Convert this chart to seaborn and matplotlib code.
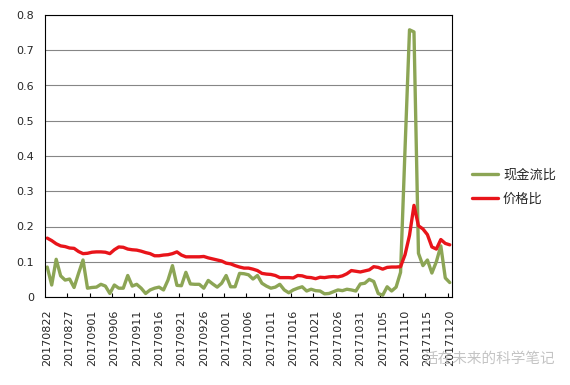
import seaborn as sns
import numpy as np
import matplotlib.pyplot as plt
import matplotlib.ticker as mticker
import pandas as pd

# 数据：2017-08-22 ~ 2017-11-20，每日一个点
start_date = '2017-08-22'

cash_flow_ratio = [
    0.085, 0.034, 0.107, 0.060, 0.048, 0.051, 0.027, 0.067, 0.105, 0.025,
    0.027, 0.028, 0.036, 0.031, 0.010, 0.034, 0.025, 0.025, 0.061, 0.031,
    0.036, 0.025, 0.010, 0.020, 0.025, 0.028, 0.020, 0.048, 0.089, 0.033,
    0.032, 0.070, 0.037, 0.036, 0.036, 0.025, 0.047, 0.037, 0.028, 0.039,
    0.061, 0.029, 0.029, 0.067, 0.066, 0.063, 0.051, 0.061, 0.039, 0.031,
    0.025, 0.028, 0.036, 0.020, 0.012, 0.020, 0.025, 0.029, 0.017, 0.022,
    0.018, 0.017, 0.009, 0.010, 0.015, 0.020, 0.018, 0.022, 0.020, 0.017,
    0.037, 0.039, 0.050, 0.044, 0.010, 0.005, 0.029, 0.017, 0.028, 0.070,
    0.420, 0.758, 0.752, 0.124, 0.089, 0.105, 0.068, 0.100, 0.145, 0.054,
    0.041,
]

price_ratio = [
    0.167, 0.160, 0.151, 0.145, 0.143, 0.139, 0.138, 0.129, 0.123, 0.124,
    0.127, 0.128, 0.128, 0.127, 0.123, 0.134, 0.142, 0.141, 0.136, 0.134,
    0.133, 0.130, 0.126, 0.123, 0.117, 0.117, 0.119, 0.120, 0.123, 0.128,
    0.119, 0.114, 0.114, 0.114, 0.114, 0.115, 0.111, 0.108, 0.105, 0.102,
    0.096, 0.094, 0.089, 0.085, 0.082, 0.082, 0.079, 0.075, 0.067, 0.065,
    0.064, 0.061, 0.055, 0.055, 0.055, 0.054, 0.061, 0.060, 0.056, 0.055,
    0.052, 0.056, 0.055, 0.057, 0.058, 0.057, 0.060, 0.066, 0.075, 0.073,
    0.071, 0.074, 0.077, 0.086, 0.084, 0.079, 0.084, 0.085, 0.085, 0.086,
    0.120, 0.175, 0.260, 0.202, 0.193, 0.177, 0.142, 0.136, 0.163, 0.152,
    0.148,
]

tick_labels = [
    '20170822', '20170827', '20170901', '20170906', '20170911', '20170916',
    '20170921', '20170926', '20171001', '20171006', '20171011', '20171016',
    '20171021', '20171026', '20171031', '20171105', '20171110', '20171115',
    '20171120',
]

y_labels = ['0', '0.1', '0.2', '0.3', '0.4', '0.5', '0.6', '0.7', '0.8']

sns.set_style('white')
plt.rcParams['font.family'] = ['DejaVu Sans', 'Noto Sans CJK SC']

df = pd.DataFrame({
    'date': pd.date_range(start_date, periods=len(price_ratio)),
    'day': np.arange(len(price_ratio)),
    '现金流比': cash_flow_ratio,
    '价格比': price_ratio,
})

fig = plt.figure(figsize=(5.7, 3.85), dpi=100)
ax = fig.add_axes([45 / 570, 1 - 297 / 385, 407 / 570, 282 / 385])

sns.lineplot(data=df, x='day', y='现金流比', ax=ax, color='#8ca555', linewidth=2.4,
             label='现金流比')
sns.lineplot(data=df, x='day', y='价格比', ax=ax, color='#e8141a', linewidth=2.4,
             label='价格比')

ax.set_xlim(-0.5, len(price_ratio) - 0.5)
ax.set_ylim(0, 0.8)
ax.set_xlabel('')
ax.set_ylabel('')

# y轴
ax.set_yticks(np.arange(len(y_labels)) * 0.1)
ax.set_yticklabels(y_labels, fontsize=8)
ax.yaxis.grid(True, color='#868686', linewidth=0.8)
ax.tick_params(axis='y', length=0, pad=8)

# x轴：标签每5天一个，刻度线位于类别之间
ax.set_xticks(np.arange(len(tick_labels)) * 5)
ax.set_xticklabels(tick_labels, rotation=90, fontsize=8)
ax.xaxis.set_minor_locator(mticker.FixedLocator(np.arange(4.5, 90, 5)))
ax.tick_params(axis='x', which='major', length=0, pad=9)
ax.tick_params(axis='x', which='minor', direction='in', length=3, width=0.8,
               color='black', bottom=True)
ax.xaxis.grid(False)

for sp in ax.spines.values():
    sp.set_visible(True)
    sp.set_color('black')
    sp.set_linewidth(0.8)

ax.legend(loc='center left', bbox_to_anchor=(1.02, 0.39), frameon=False,
          fontsize=9.5, handlelength=2.0, handletextpad=0.35, labelspacing=0.8)

# 水印（原图中与日期标签有重叠）
fig.text(423 / 570, 1 - 358 / 385, '活在未来的科学笔记', fontsize=10.5,
         color='#c4c4c4', va='center', ha='left', zorder=0)

plt.savefig('out.png', dpi=100)
